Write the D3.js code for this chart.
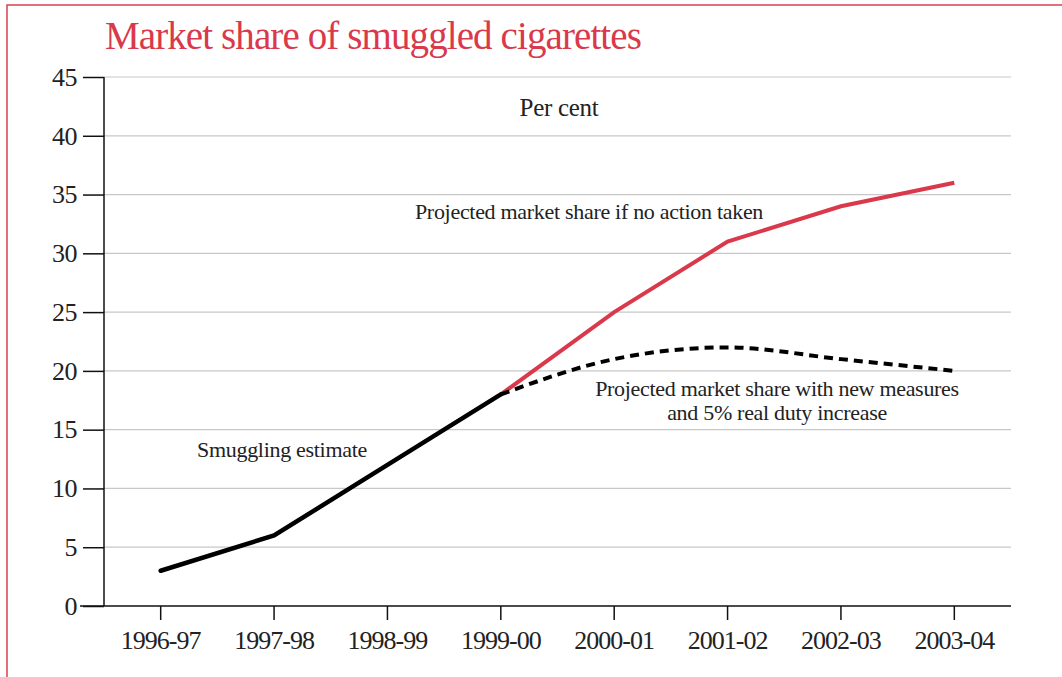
<!DOCTYPE html>
<html>
<head>
<meta charset="utf-8">
<script src="https://cdn.jsdelivr.net/npm/d3@7"></script>
<style>
  body { margin: 0; background: #fff; }
  text { font-family: "Liberation Serif", "DejaVu Serif", serif; fill: #222; }
</style>
</head>
<body>
<div id="chart"></div>
<script>
// data
var years = ["1996-97", "1997-98", "1998-99", "1999-00", "2000-01", "2001-02", "2002-03", "2003-04"];
var smuggling = [3, 6, 12, 18, null, null, null, null];
var noAction = [null, null, null, 18, 25, 31, 34, 36];
var newMeasures = [null, null, null, 18, 21, 22, 21, 20];
var yTicks = [0, 5, 10, 15, 20, 25, 30, 35, 40, 45];

var W = 1062, H = 677;
var margin = {top: 77, right: 51, bottom: 71, left: 104},
    width = W - margin.left - margin.right,
    height = H - margin.top - margin.bottom;

var svg = d3.select("#chart")
  .append("svg")
    .attr("width", W)
    .attr("height", H);

// red frame (only top and left show)
svg.append("rect")
  .attr("x", 7).attr("y", 5)
  .attr("width", W).attr("height", H)
  .attr("fill", "none")
  .attr("stroke", "#d9414f")
  .attr("stroke-width", 1.5);

svg.append("text")
  .attr("x", 105).attr("y", 49)
  .style("font-size", "39px")
  .style("letter-spacing", "-0.9px")
  .style("fill", "#d9394a")
  .text("Market share of smuggled cigarettes");

var g = svg.append("g")
  .attr("transform", "translate(" + margin.left + "," + margin.top + ")");

var x = d3.scaleBand()
  .domain(years)
  .range([0, width])
  .padding(0);

var y = d3.scaleLinear()
  .domain([0, 45])
  .range([height, 0]);

// gridlines
g.selectAll(".grid")
  .data(yTicks.filter(function(d) { return d > 0; }))
  .enter().append("line")
    .attr("x1", 0).attr("x2", width)
    .attr("y1", function(d) { return y(d); })
    .attr("y2", function(d) { return y(d); })
    .attr("stroke", "#c8c8c8")
    .attr("stroke-width", 1.2);

// Y axis
var yAxis = g.append("g")
  .call(d3.axisLeft(y).tickValues(yTicks).tickSize(21).tickPadding(6));
yAxis.select(".domain").remove();
yAxis.append("line")
  .attr("x1", 0).attr("x2", 0)
  .attr("y1", 0).attr("y2", height)
  .attr("stroke", "#111").attr("stroke-width", 1.5);
yAxis.selectAll(".tick line").attr("stroke", "#111").attr("stroke-width", 1.5);
yAxis.selectAll("text")
  .style("font-size", "26px")
  .style("letter-spacing", "-0.5px")
  .style("fill", "#222");

// X axis
var xAxis = g.append("g")
  .attr("transform", "translate(0," + height + ")")
  .call(d3.axisBottom(x).tickSize(14).tickPadding(11));
xAxis.select(".domain").remove();
xAxis.append("line")
  .attr("x1", -24).attr("x2", width)
  .attr("stroke", "#111").attr("stroke-width", 1.5);
xAxis.selectAll(".tick line").attr("stroke", "#111").attr("stroke-width", 1.5);
xAxis.selectAll("text")
  .style("font-size", "26px")
  .style("letter-spacing", "-1px")
  .style("fill", "#222");

var xc = function(d, i) { return x(years[i]) + x.bandwidth() / 2; };

var line = d3.line()
  .defined(function(d) { return d != null; })
  .x(xc)
  .y(function(d) { return y(d); });

var smooth = d3.line()
  .defined(function(d) { return d != null; })
  .x(xc)
  .y(function(d) { return y(d); })
  .curve(d3.curveMonotoneX);

g.append("path")
  .datum(noAction)
  .attr("d", line)
  .attr("fill", "none")
  .attr("stroke", "#d9394a")
  .attr("stroke-width", 4);

g.append("path")
  .datum(newMeasures)
  .attr("d", smooth)
  .attr("fill", "none")
  .attr("stroke", "#000")
  .attr("stroke-width", 4)
  .attr("stroke-dasharray", "9,6");

g.append("path")
  .datum(smuggling)
  .attr("d", line)
  .attr("fill", "none")
  .attr("stroke", "#000")
  .attr("stroke-width", 4.5)
  .attr("stroke-linecap", "round");

// annotations
function note(tx, ty, s, size) {
  svg.append("text")
    .attr("x", tx).attr("y", ty)
    .attr("text-anchor", "middle")
    .style("font-size", (size || 22) + "px")
    .style("letter-spacing", "-0.3px")
    .text(s);
}
note(559, 116, "Per cent", 25);
note(589, 219, "Projected market share if no action taken");
note(777, 396, "Projected market share with new measures");
note(777, 420, "and 5% real duty increase");
note(282, 457, "Smuggling estimate");
</script>
</body>
</html>
